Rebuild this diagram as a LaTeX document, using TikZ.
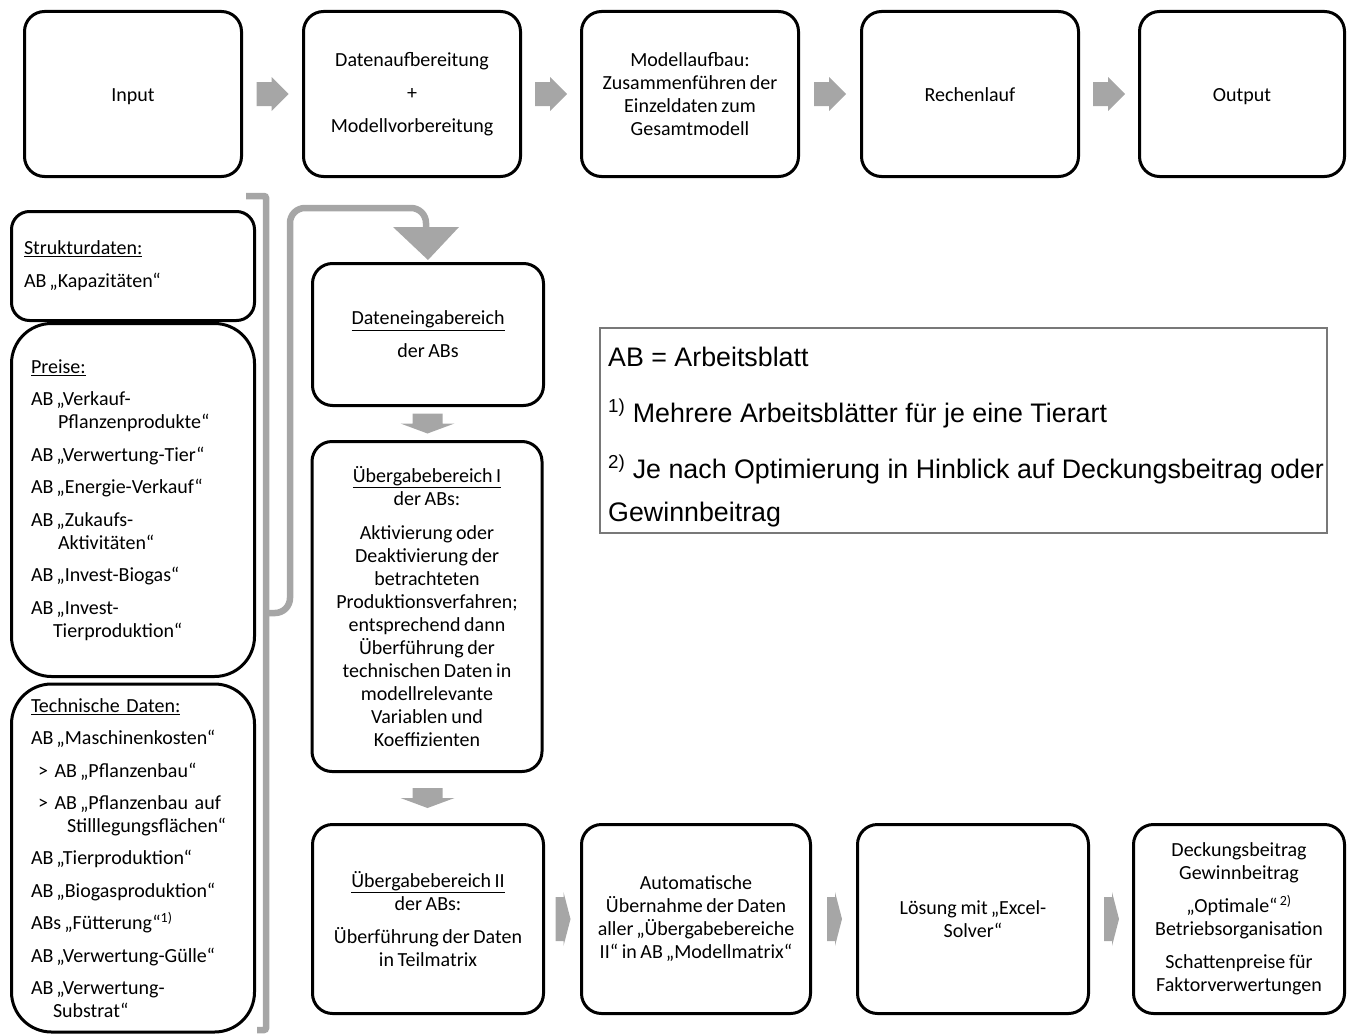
\documentclass[tikz,border=0pt]{standalone}
\usepackage{fontspec}
\setmainfont{Carlito}[WordSpace=0.8]
\newfontfamily\arialf{Liberation Sans}
\usetikzlibrary{calc}
\definecolor{graya}{RGB}{166,166,166}
\definecolor{legbd}{RGB}{120,120,120}
\newcommand\HArr[1]{\fill[graya, shift={(#1)}] (-16,-12) -- (-1,-12) -- (-1,-17) -- (16,0) -- (-1,17) -- (-1,12) -- (-16,12) -- cycle;}
\newcommand\BArr[1]{\fill[graya, shift={(#1)}] (-7,-22) -- (1,-22) -- (1,-27) -- (8,0) -- (1,27) -- (1,22) -- (-7,22) -- cycle;}
\newcommand\VArr[1]{\fill[graya, shift={(#1)}] (-15,-10) -- (15,-10) -- (15,0) -- (27,0) -- (0,10) -- (-27,0) -- (-15,0) -- cycle;}
\newcommand\AB{AB\kern3pt}
\newcommand\lowtxt[1]{\smash{\raisebox{-7.5pt}{#1}}}
\begin{document}
\begin{tikzpicture}[x=1pt,y=-1pt,
  box/.style={draw=black, line width=3pt, rounded corners=#1, inner sep=0pt, fill=white,
    font=\fontsize{20}{23}\selectfont, align=center},
  box/.default=20pt,
  lbox/.style={box=#1, align=left},
  gline/.style={draw=graya, line width=6.5pt},
  legtxt/.style={font=\arialf\fontsize{26.8}{30}\selectfont, anchor=base west, inner sep=0pt}
]
\useasboundingbox (0,0) rectangle (1348,1033);
\clip (0,0) rectangle (1348,1033);

% gray bracket and feed line
\coordinate (bt) at (246,196);
\coordinate (bb) at (257,1030);
\coordinate (bj) at (266,613);
\draw[gline, rounded corners=2pt] (bt) -- (266,196) -- (266,1030) -- (bb);
\draw[gline, rounded corners=15pt] (bj) -- (290,613) -- (290,208) -- (426,208) -- (426,232);

% top row
\node[box, minimum width=217pt, minimum height=165pt] (in) at (133,94) {\lowtxt{Input}};
\node[box, minimum width=217pt, minimum height=165pt] (dat) at (412,94) {Datenaufbereitung\\[10pt]+\\[10pt]Modellvorbereitung};
\node[box, minimum width=217pt, minimum height=165pt] (mod) at (690,94) {Modellaufbau:\\Zusammenführen der\\Einzeldaten zum\\Gesamtmodell};
\node[box, minimum width=217pt, minimum height=165pt] (rech) at (970,94) {\lowtxt{Rechenlauf}};
\node[box, minimum width=205pt, minimum height=165pt] (out) at (1242,94) {\lowtxt{Output}};
\coordinate (a1) at ($(in.east)!0.5!(dat.west)$);
\coordinate (a2) at ($(dat.east)!0.5!(mod.west)$);
\coordinate (a3) at ($(mod.east)!0.5!(rech.west)$);
\coordinate (a4) at ($(rech.east)!0.5!(out.west)$);
\HArr{a1}\HArr{a2}\HArr{a3}\HArr{a4}

% left column
\node[lbox=18pt, minimum width=243pt, minimum height=109pt, text width=218pt] (st) at (133,266)
 {\underline{Strukturdaten:}\\[10pt]\AB„Kapazitäten“};
\node[lbox=40pt, minimum width=243pt, minimum height=353pt, text width=204pt] (pr) at (133,500)
 {\underline{Preise:}\\[9.5pt]
  \AB„Verkauf-\\\hspace*{27pt}Pflanzenprodukte“\\[9.5pt]
  \AB„Verwertung-Tier“\\[9.5pt]
  \AB„Energie-Verkauf“\\[9.5pt]
  \AB„Zukaufs-\\\hspace*{27pt}Aktivitäten“\\[9.5pt]
  \AB„Invest-Biogas“\\[9.5pt]
  \AB„Invest-\\\hspace*{22pt}Tierproduktion“};
\node[lbox=40pt, minimum width=243pt, minimum height=348pt, text width=204pt] (te) at (133,858)
 {\underline{Technische Daten:}\\[9.4pt]
  \AB„Maschinenkosten“\\[9.4pt]
  \hspace*{7pt}> \AB„Pflanzenbau“\\[9.4pt]
  \hspace*{7pt}> \AB„Pflanzenbau auf\\\hspace*{36pt}Stilllegungsflächen“\\[9.4pt]
  \AB„Tierproduktion“\\[9.4pt]
  \AB„Biogasproduktion“\\[9.4pt]
  ABs\kern3pt„Fütterung“\textsuperscript{1)}\\[9.4pt]
  \AB„Verwertung-Gülle“\\[9.4pt]
  \AB„Verwertung-\\\hspace*{22pt}Substrat“};

% middle column
\node[box, minimum width=231pt, minimum height=142pt] (dein) at (428,334.5)
 {\underline{Dateneingabereich}\\[10pt]der ABs};
\node[box, minimum width=230pt, minimum height=330pt] (ub1) at (427,606.5)
 {\underline{Übergabebereich I}\\der ABs:\\[11pt]Aktivierung oder\\Deaktivierung der\\betrachteten\\Produktionsverfahren;\\entsprechend dann\\Überführung der\\technischen Daten in\\modellrelevante\\Variablen und\\Koeffizienten};
\node[box, minimum width=231pt, minimum height=189pt] (ub2) at (428,919)
 {\underline{Übergabebereich II}\\der ABs:\\[10pt]Überführung der Daten\\in Teilmatrix};
\fill[graya] (393,227) -- (459,227) -- ($(dein.north)+(0,-2)$) -- cycle;
\coordinate (v1) at ($(dein.south)!0.5!(ub1.north)$);
\coordinate (v2) at ($(ub1.south)!0.5!(ub2.north)$);
\VArr{v1}\VArr{v2}

% bottom row
\node[box, minimum width=229pt, minimum height=189pt] (aut) at (696,919)
 {Automatische\\Übernahme der Daten\\aller\kern3pt„Übergabebereiche\\II“ in \AB„Modellmatrix“};
\node[box, minimum width=231pt, minimum height=189pt] (los) at (973,919)
 {Lösung mit\kern3pt„Excel-\\Solver“};
\node[box, minimum width=211pt, minimum height=189pt] (outb) at (1239,919)
 {Deckungsbeitrag\\Gewinnbeitrag\\[10pt]„Optimale“\textsuperscript{\,2)}\\Betriebsorganisation\\[10pt]Schattenpreise für\\Faktorverwertungen};
\coordinate (b1) at ($(ub2.east)!0.5!(aut.west)$);
\coordinate (b2) at ($(aut.east)!0.5!(los.west)$);
\coordinate (b3) at ($(los.east)!0.5!(outb.west)$);
\BArr{b1}\BArr{b2}\BArr{b3}

% legend
\node[draw=legbd, line width=1.2pt, minimum width=727pt, minimum height=205pt, inner sep=0pt] (leg) at (963.5,430.5) {};
\node[legtxt] (l1) at (608,366) {AB = Arbeitsblatt};
\node[legtxt] (l2) at (608,422) {\textsuperscript{1)} Mehrere Arbeitsblätter für je eine Tierart};
\node[legtxt] (l3) at (608,478) {\textsuperscript{2)} Je nach Optimierung in Hinblick auf Deckungsbeitrag oder};
\node[legtxt] (l4) at (608,521) {Gewinnbeitrag};
\end{tikzpicture}
\end{document}
